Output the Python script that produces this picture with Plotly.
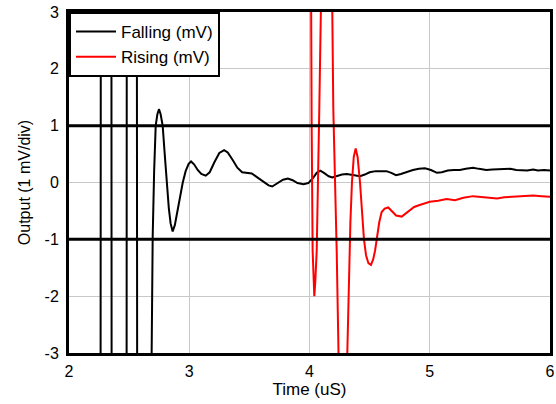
import plotly.graph_objects as go

# Falling edge response (mV)
fall_x = [2.20, 2.2625, 2.2647, 2.308, 2.3525, 2.3545, 2.417, 2.4790, 2.4806, 2.523,
          2.5640, 2.5670, 2.624, 2.682, 2.696, 2.708, 2.721, 2.735, 2.748, 2.762,
          2.779, 2.796, 2.8125, 2.83, 2.845, 2.862, 2.88, 2.90, 2.925, 2.946,
          2.97, 2.995, 3.015, 3.04, 3.07, 3.10, 3.137, 3.17, 3.21, 3.25,
          3.29, 3.32, 3.36, 3.40, 3.44, 3.48, 3.52, 3.56, 3.62, 3.66,
          3.69, 3.73, 3.78, 3.82, 3.86, 3.90, 3.95, 3.99, 4.03, 4.06,
          4.09, 4.12, 4.16, 4.19, 4.23, 4.27, 4.31, 4.35, 4.39, 4.42,
          4.46, 4.50, 4.55, 4.60, 4.64, 4.68, 4.72, 4.76, 4.80, 4.86,
          4.91, 4.96, 5.01, 5.06, 5.10, 5.15, 5.20, 5.25, 5.30, 5.36,
          5.41, 5.47, 5.52, 5.57, 5.62, 5.67, 5.72, 5.77, 5.81, 5.86,
          5.90, 5.95, 6.00]
fall_y = [-25, -4, 4, 25, 4, -4, -25, -4, 4, 22,
          4, -4, -18, -3.0, -0.95, 0.2, 1.0, 1.2, 1.29, 1.2,
          1.0, 0.5, 0.0, -0.45, -0.72, -0.86, -0.75, -0.5, -0.2, 0.0,
          0.2, 0.33, 0.37, 0.32, 0.22, 0.15, 0.12, 0.18, 0.36, 0.52,
          0.57, 0.53, 0.4, 0.26, 0.18, 0.17, 0.16, 0.1, 0.0, -0.05,
          -0.07, -0.02, 0.05, 0.07, 0.04, -0.01, -0.03, -0.01, 0.08, 0.17,
          0.21, 0.17, 0.11, 0.09, 0.12, 0.14, 0.15, 0.14, 0.12, 0.11,
          0.14, 0.18, 0.2, 0.2, 0.2, 0.17, 0.13, 0.15, 0.18, 0.22,
          0.24, 0.25, 0.22, 0.17, 0.18, 0.21, 0.22, 0.22, 0.24, 0.26,
          0.24, 0.22, 0.23, 0.23, 0.24, 0.24, 0.22, 0.21, 0.21, 0.23,
          0.21, 0.22, 0.21]

# Rising edge response (mV)
rise_x = [3.99, 4.010, 4.018, 4.026, 4.033, 4.040, 4.048, 4.060, 4.0815, 4.0956,
          4.14, 4.1896, 4.1979, 4.2262, 4.237, 4.275, 4.3144, 4.3285, 4.340, 4.353,
          4.368, 4.384, 4.400, 4.420, 4.437, 4.453, 4.47, 4.49, 4.511, 4.53,
          4.545, 4.559, 4.58, 4.60, 4.625, 4.655, 4.685, 4.72, 4.767, 4.80,
          4.836, 4.87, 4.91, 4.96, 5.00, 5.07, 5.14, 5.21, 5.28, 5.36,
          5.45, 5.56, 5.62, 5.69, 5.77, 5.86, 5.93, 6.00]
rise_y = [15, 3.0, 1.0, -1.2, -1.8, -2.0, -1.75, -1.2, 1.3, 3.0,
          9, 3.0, 1.3, -1.2, -3.0, -7, -3.0, -1.54, -0.7, 0.0,
          0.45, 0.60, 0.45, 0.0, -0.5, -1.0, -1.28, -1.42, -1.45, -1.35,
          -1.2, -1.0, -0.7, -0.52, -0.46, -0.44, -0.5, -0.58, -0.60, -0.55,
          -0.48, -0.43, -0.40, -0.36, -0.34, -0.32, -0.29, -0.31, -0.27, -0.24,
          -0.26, -0.28, -0.26, -0.25, -0.24, -0.23, -0.24, -0.25]

x_ticks = [2, 3, 4, 5, 6]
x_labels = ["2", "3", "4", "5", "6"]
y_ticks = [3, 2, 1, 0, -1, -2, -3]
y_labels = ["3", "2", "1", "0", "-1", "-2", "-3"]
limit_levels = [1, -1]

FONT = "Liberation Sans, Arial, sans-serif"

fig = go.Figure()
fig.add_trace(go.Scatter(x=fall_x, y=fall_y, mode="lines", name="Falling (mV)",
                         line=dict(color="black", width=2)))
fig.add_trace(go.Scatter(x=rise_x, y=rise_y, mode="lines", name="Rising (mV)",
                         line=dict(color="#ff0000", width=2)))

for lv in limit_levels:
    fig.add_shape(type="line", xref="paper", x0=0, x1=1, yref="y", y0=lv, y1=lv,
                  line=dict(color="black", width=3), layer="above")

fig.update_layout(
    width=556, height=404,
    margin=dict(l=69, r=6, t=12, b=51),
    paper_bgcolor="white", plot_bgcolor="white",
    font=dict(family=FONT, size=16, color="black"),
    showlegend=True,
    legend=dict(x=0, y=1, xanchor="left", yanchor="top",
                bgcolor="white", bordercolor="black", borderwidth=2,
                font=dict(family=FONT, size=17, color="black"),
                itemwidth=40, tracegroupgap=0),
    xaxis=dict(range=[2, 6], tickvals=x_ticks, ticktext=x_labels,
               showgrid=True, gridcolor="#c8c8c8", gridwidth=1,
               zeroline=False, showline=True, mirror=True,
               linecolor="black", linewidth=3, ticks="", automargin=False,
               ticklabelstandoff=2,
               title=dict(text="Time (uS)", standoff=2,
                          font=dict(family=FONT, size=17)),
               tickfont=dict(family=FONT, size=16)),
    yaxis=dict(range=[-3, 3], tickvals=y_ticks, ticktext=y_labels,
               showgrid=True, gridcolor="#c8c8c8", gridwidth=1,
               zeroline=False, showline=True, mirror=True,
               linecolor="black", linewidth=3, ticks="", automargin=False,
               ticklabelstandoff=4,
               title=dict(text="Output (1 mV/div)", standoff=10,
                          font=dict(family=FONT, size=16)),
               tickfont=dict(family=FONT, size=16)),
)

fig.write_html("out.html",
               config={"displayModeBar": False},
               post_script="document.body.style.margin='0';document.body.style.padding='0';")
